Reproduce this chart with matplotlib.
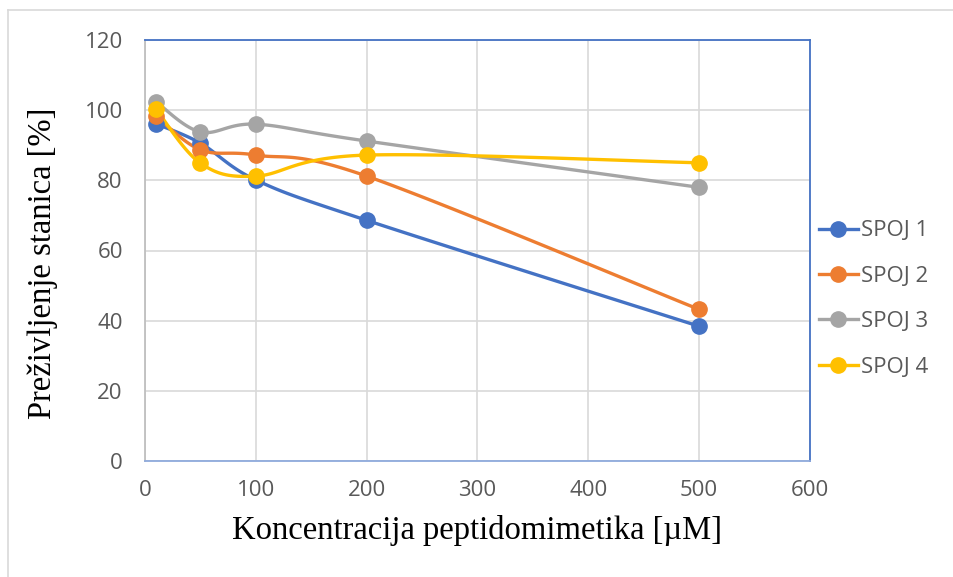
import numpy as np
import matplotlib.pyplot as plt
from matplotlib.lines import Line2D

# data
konc = [10, 50, 100, 200, 500]
spoj1 = [96.1, 90.6, 80.1, 68.6, 38.4]
spoj2 = [98.3, 88.7, 87.2, 81.2, 43.2]
spoj3 = [102.4, 93.8, 96.0, 91.2, 78.0]
spoj4 = [100.3, 84.9, 81.2, 87.2, 85.0]
nazivi = ['SPOJ 1', 'SPOJ 2', 'SPOJ 3', 'SPOJ 4']
boje = ['#4472C4', '#ED7D31', '#A5A5A5', '#FFC000']


def smooth(x, y, n=30):
    # Excel-like smoothed line (Bezier with Catmull-Rom control points)
    P = np.column_stack([x, y]).astype(float)
    P = np.vstack([P[0], P, P[-1]])
    t = np.linspace(0, 1, n)[:, None]
    out = []
    for i in range(1, len(P) - 2):
        p0, p1, p2, p3 = P[i - 1], P[i], P[i + 1], P[i + 2]
        b1 = p1 + (p2 - p0) / 6
        b2 = p2 - (p3 - p1) / 6
        seg = ((1 - t) ** 3) * p1 + 3 * ((1 - t) ** 2) * t * b1 + 3 * (1 - t) * t ** 2 * b2 + t ** 3 * p2
        out.append(seg)
    c = np.vstack(out)
    return c[:, 0], c[:, 1]


fig = plt.figure(figsize=(9.54, 5.77), dpi=100)
ax = fig.add_axes([145 / 954, 1 - 461 / 577, 665 / 954, 421 / 577])

tick_font = 'Open Sans'
siva = '#595959'

for y, b in zip([spoj1, spoj2, spoj3, spoj4], boje):
    sx, sy = smooth(konc, y)
    ax.plot(sx, sy, color=b, lw=2.4, solid_capstyle='round', zorder=3)
    ax.plot(konc, y, 'o', color=b, ms=11, zorder=4)

ax.set_xlim(0, 600)
ax.set_ylim(0, 120)
ax.set_xticks(range(0, 601, 100))
ax.set_yticks(range(0, 121, 20))
ax.grid(True, color='#d9d9d9', lw=1.2)
ax.set_axisbelow(True)
ax.tick_params(length=0, colors=siva, labelsize=16)
ax.tick_params(axis='x', pad=14)
ax.tick_params(axis='y', pad=16)
for lab in ax.get_xticklabels() + ax.get_yticklabels():
    lab.set_fontfamily(tick_font)

ax.spines['top'].set_color('#4472C4')
ax.spines['right'].set_color('#4472C4')
ax.spines['bottom'].set_color('#8FAADC')
ax.spines['left'].set_color('#BFBFBF')
for s in ax.spines.values():
    s.set_linewidth(1.3)

ax.set_xlabel('Koncentracija peptidomimetika [µM]', family='Liberation Serif',
              fontsize=23.5, labelpad=10)
ax.set_ylabel('Preživljenje stanica [%]', family='Liberation Serif', fontsize=23.5)
ax.yaxis.set_label_coords(-0.131, 0.47)

handles = [Line2D([], [], color=b, lw=2.4, marker='o', ms=11) for b in boje]
leg = fig.legend(handles, nazivi, loc='center left', bbox_to_anchor=(799 / 954, 1 - 299 / 577),
                 frameon=False, handlelength=1.75, handletextpad=0.12, labelspacing=1.1,
                 prop={'family': tick_font, 'size': 16})
for t in leg.get_texts():
    t.set_color(siva)

# outer chart border
fig.add_artist(Line2D([8 / 954, 8 / 954], [0, 1 - 10 / 577], color='#d9d9d9', lw=1.2,
                      transform=fig.transFigure))
fig.add_artist(Line2D([8 / 954, 1], [1 - 10 / 577, 1 - 10 / 577], color='#d9d9d9', lw=1.2,
                      transform=fig.transFigure))

fig.savefig('out.png', dpi=100)
